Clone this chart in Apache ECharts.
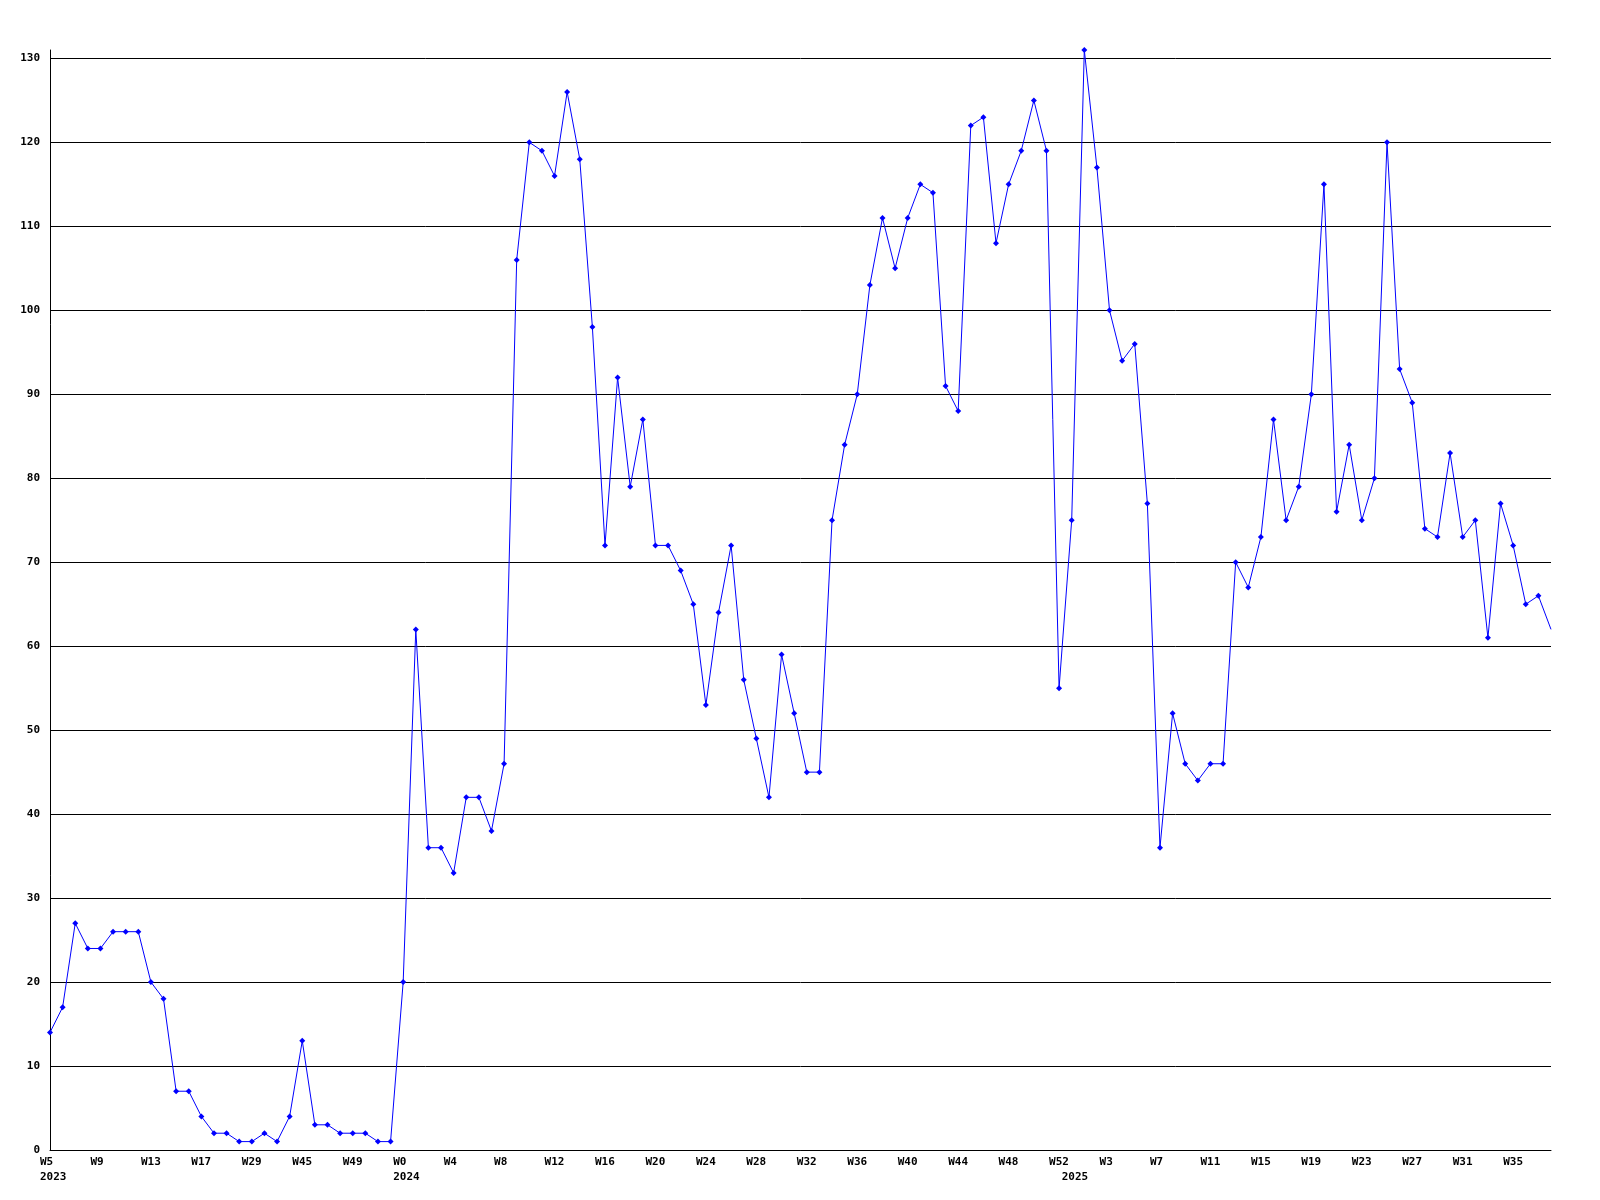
<!DOCTYPE html>
<html>
<head>
<meta charset="utf-8">
<title>Weekly chart</title>
<script src="https://cdn.jsdelivr.net/npm/echarts@6/dist/echarts.min.js"></script>
<style>
  html, body { margin: 0; padding: 0; background: #ffffff; }
  #chart { width: 1600px; height: 1200px; }
</style>
</head>
<body>
<div id="chart"></div>
<script>
  // week labels per year (2023 has gaps in the data)
  var weeks2023 = ['W5', 'W6', 'W7', 'W8', 'W9', 'W10', 'W11', 'W12', 'W13', 'W14', 'W15', 'W16', 'W17',
    'W20', 'W23', 'W26', 'W29', 'W33', 'W37', 'W41', 'W45', 'W46', 'W47', 'W48', 'W49', 'W50', 'W51', 'W52']
  var weeks2024 = []
  for (var w = 0; w <= 52; w++) weeks2024.push('W' + w)
  var weeks2025 = []
  for (var k = 0; k <= 38; k++) weeks2025.push('W' + k)

  var years = ['2023', '2024', '2025']

  var values2023 = [14, 17, 27, 24, 24, 26, 26, 26, 20, 18, 7, 7, 4,
    2, 2, 1, 1, 2, 1, 4, 13, 3, 3, 2, 2, 2, 1, 1]
  var values2024 = [20, 62, 36, 36, 33, 42, 42, 38, 46, 106, 120, 119, 116, 126, 118, 98, 72, 92, 79, 87,
    72, 72, 69, 65, 53, 64, 72, 56, 49, 42, 59, 52, 45, 45, 75, 84, 90, 103, 111, 105,
    111, 115, 114, 91, 88, 122, 123, 108, 115, 119, 125, 119, 55]
  var values2025 = [75, 131, 117, 100, 94, 96, 77, 36, 52, 46, 44, 46, 46, 70, 67, 73, 87, 75, 79, 90,
    115, 76, 84, 75, 80, 120, 93, 89, 74, 73, 83, 73, 75, 61, 77, 72, 65, 66, 62]

  var categories = weeks2023.concat(weeks2024, weeks2025)
  var values = values2023.concat(values2024, values2025)

  // index where each year starts
  var yearStart = {}
  yearStart[0] = years[0]
  yearStart[weeks2023.length] = years[1]
  yearStart[weeks2023.length + weeks2024.length] = years[2]

  var font = 'DejaVu Sans Mono'

  var seriesData = values.map(function(v, i) {
    if (i === values.length - 1) {
      return { value: v, symbol: 'none' } // current week, no marker
    }
    return v
  })

  var chart = echarts.init(document.getElementById('chart'), null, { renderer: 'canvas' })

  var options = {
    backgroundColor: '#ffffff',
    animation: false,
    grid: {
      left: 50,
      right: 49,
      top: 50,
      bottom: 50
    },
    xAxis: {
      type: 'category',
      data: categories,
      boundaryGap: false,
      axisLine: { show: true, lineStyle: { color: '#000000', width: 1 } },
      axisTick: { show: false },
      splitLine: { show: false },
      axisLabel: {
        interval: function(index) {
          return index % 4 === 0 || yearStart[index] !== undefined
        },
        margin: 5,
        align: 'center',
        formatter: function(value, index) {
          var top = index % 4 === 0 ? value : ''
          var str = '{a|' + top + '}'
          if (yearStart[index] !== undefined) {
            str += '\n{a|' + yearStart[index] + '}'
          }
          return str
        },
        rich: {
          a: {
            width: 20,
            align: 'left',
            fontFamily: font,
            fontWeight: 'bold',
            fontSize: 11,
            lineHeight: 15,
            color: '#000000'
          }
        }
      }
    },
    yAxis: {
      type: 'value',
      min: 0,
      max: 131,
      interval: 10,
      axisLine: { show: true, lineStyle: { color: '#000000', width: 1 } },
      axisTick: { show: false },
      splitLine: {
        show: true,
        showMaxLine: false,
        lineStyle: { color: '#000000', width: 1, type: 'solid' }
      },
      axisLabel: {
        margin: 10,
        showMaxLabel: false,
        fontFamily: font,
        fontWeight: 'bold',
        fontSize: 11,
        color: '#000000',
        formatter: function(v) {
          return v % 10 === 0 ? String(v) : ''
        }
      }
    },
    series: [
      {
        type: 'line',
        data: seriesData,
        showAllSymbol: true,
        symbol: 'diamond',
        symbolSize: 6,
        itemStyle: { color: '#0000ff' },
        lineStyle: { color: '#0000ff', width: 1 },
        emphasis: { disabled: true }
      }
    ]
  }

  chart.setOption(options)
</script>
</body>
</html>
